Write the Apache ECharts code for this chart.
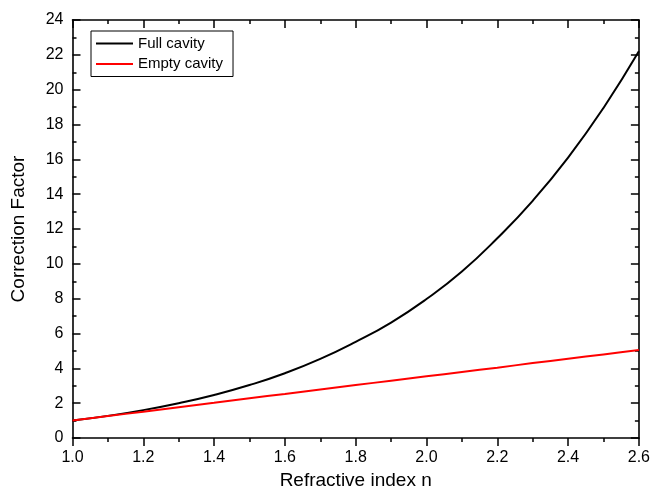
<!DOCTYPE html>
<html>
<head>
<meta charset="utf-8">
<script src="https://cdn.jsdelivr.net/npm/echarts@6/dist/echarts.min.js"></script>
<style>html,body{margin:0;padding:0;background:#fff}#c{width:653px;height:500px}</style>
</head>
<body>
<div id="c"></div>
<script>
var nValues = [1.0,1.1,1.2,1.3,1.4,1.5,1.6,1.7,1.8,1.9,2.0,2.1,2.2,2.3,2.4,2.5,2.6];
var fullCavity = [1.0,1.27,1.6,2.0,2.47,3.04,3.72,4.54,5.52,6.63,7.98,9.56,11.47,13.62,16.1,18.95,22.2];
var emptyCavity = [1.0,1.26,1.51,1.77,2.02,2.28,2.53,2.79,3.04,3.29,3.54,3.79,4.04,4.3,4.55,4.8,5.05];
var seriesNames = ['Full cavity','Empty cavity'];
var xTicks = {min:1.0, max:2.6, interval:0.2};
var yTicks = {min:0, max:24, interval:2};

function pairs(ys){ return nValues.map(function(x,i){return [x, ys[i]];}); }
var font = 'Liberation Sans, Arial, sans-serif';
var chart = echarts.init(document.getElementById('c'), null, {renderer:'canvas'});
var axisLine = {show:true, onZero:false, lineStyle:{color:'#000', width:1.6}};
var lineIcon = 'path://M0,0L0,0M0,6L37,6L37,8L0,8ZM0,14L0,14';
chart.setOption({
  animation:false,
  backgroundColor:'#fff',
  grid:{left:72.5, right:13.5, top:20, bottom:62},
  legend:{
    left:91, top:31, orient:'vertical',
    data:seriesNames.map(function(n){return {name:n, icon:lineIcon};}),
    borderColor:'#000', borderWidth:1, borderRadius:0,
    padding:[5,10,5,5],
    itemWidth:37, itemHeight:14, itemGap:5.5,
    textStyle:{fontFamily:font, fontSize:15, color:'#000'}
  },
  xAxis:[{
    type:'value', min:xTicks.min, max:xTicks.max, interval:xTicks.interval,
    name:'Refractive index n', nameLocation:'middle', nameGap:30,
    nameTextStyle:{fontFamily:font, fontSize:19, color:'#000'},
    axisLine:axisLine,
    axisTick:{show:true, inside:false, length:8, lineStyle:{color:'#000', width:1.5}},
    minorTick:{show:true, splitNumber:2, length:4, lineStyle:{color:'#000', width:1.5}},
    axisLabel:{fontFamily:font, fontSize:16, color:'#000', margin:12, formatter:function(v){return v.toFixed(1);}},
    splitLine:{show:false}
  },{
    type:'value', position:'top', min:xTicks.min, max:xTicks.max, interval:xTicks.interval,
    axisLine:axisLine,
    axisTick:{show:true, inside:true, length:8, lineStyle:{color:'#000', width:1.5}},
    minorTick:{show:true, splitNumber:2, length:4, lineStyle:{color:'#000', width:1.5}},
    axisLabel:{show:false}, splitLine:{show:false}
  }],
  yAxis:[{
    type:'value', min:yTicks.min, max:yTicks.max, interval:yTicks.interval,
    name:'Correction Factor', nameLocation:'middle', nameGap:44,
    nameTextStyle:{fontFamily:font, fontSize:19, color:'#000'},
    axisLine:axisLine,
    axisTick:{show:true, inside:true, length:8, lineStyle:{color:'#000', width:1.5}},
    minorTick:{show:true, splitNumber:2, length:4, lineStyle:{color:'#000', width:1.5}},
    axisLabel:{fontFamily:font, fontSize:16, color:'#000', margin:9},
    splitLine:{show:false}
  },{
    type:'value', position:'right', min:yTicks.min, max:yTicks.max, interval:yTicks.interval,
    axisLine:axisLine,
    axisTick:{show:true, inside:true, length:8, lineStyle:{color:'#000', width:1.5}},
    minorTick:{show:true, splitNumber:2, length:4, lineStyle:{color:'#000', width:1.5}},
    axisLabel:{show:false}, splitLine:{show:false}
  }],
  series:[{
    name:seriesNames[0], type:'line', smooth:0.5, symbol:'none',
    data:pairs(fullCavity), color:'#000', lineStyle:{color:'#000', width:2}, z:3
  },{
    name:seriesNames[1], type:'line', smooth:0.3, symbol:'none',
    data:pairs(emptyCavity), color:'#ff0000', lineStyle:{color:'#ff0000', width:2}, z:4
  }]
});
</script>
</body>
</html>
